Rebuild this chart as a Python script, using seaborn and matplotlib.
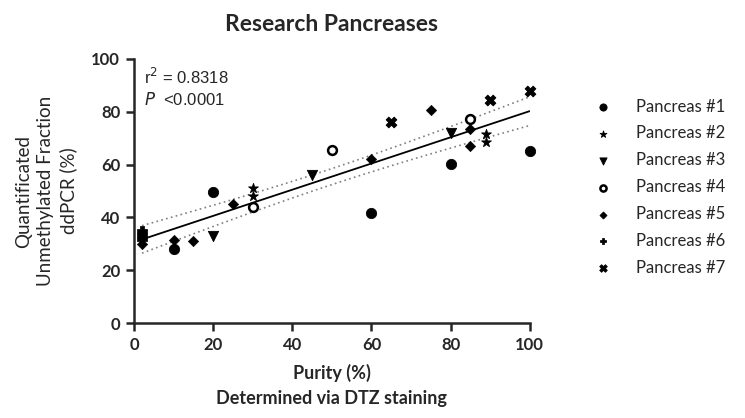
import numpy as np
import matplotlib
matplotlib.use("Agg")
import matplotlib.pyplot as plt
import pandas as pd
import seaborn as sns

# purity (%) vs quantified unmethylated fraction (%) for each pancreas
p1_x = [10, 20, 60, 80, 100]
p1_y = [28.2, 49.7, 41.6, 60.2, 65.2]
p2_x = [30, 30, 89, 89]
p2_y = [51.2, 48.3, 71.4, 68.4]
p3_x = [20, 45, 80]
p3_y = [33.0, 56.0, 72.0]
p4_x = [30, 50, 85]
p4_y = [43.9, 65.5, 77.2]
p5_x = [2, 10, 15, 25, 60, 75, 85, 85]
p5_y = [30.0, 31.5, 31.0, 45.1, 62.3, 80.5, 73.6, 67.0]
p6_x = [2, 2, 2]
p6_y = [35.0, 33.4, 31.7]
p7_x = [65, 90, 100]
p7_y = [76.2, 84.5, 88.0]

labels = ["Pancreas #1", "Pancreas #2", "Pancreas #3", "Pancreas #4",
          "Pancreas #5", "Pancreas #6", "Pancreas #7"]
xs = [p1_x, p2_x, p3_x, p4_x, p5_x, p6_x, p7_x]
ys = [p1_y, p2_y, p3_y, p4_y, p5_y, p6_y, p7_y]

sns.set_style("ticks")
plt.rcParams['font.family'] = ['Lato', 'DejaVu Sans']

fig = plt.figure(figsize=(7.45, 4.18), dpi=100)
ax = fig.add_axes([0.18, 0.227, 0.531, 0.632])

# marker style for each pancreas
styles = [
    dict(marker="o", s=55, color="black", edgecolor="black"),
    dict(marker="*", s=55, color="black", edgecolor="black"),
    dict(marker="v", s=55, color="black", edgecolor="black"),
    dict(marker="o", s=40, color="white", edgecolor="black", linewidth=1.8),
    dict(marker="D", s=28, color="black", edgecolor="black"),
    dict(marker="P", s=45, color="black", edgecolor="black"),
    dict(marker="X", s=60, color="black", edgecolor="black"),
]

for x, y, lab, st in zip(xs, ys, labels, styles):
    df = pd.DataFrame({"x": x, "y": y})
    sns.scatterplot(data=df, x="x", y="y", ax=ax, label=lab, zorder=3,
                    clip_on=False, **st)

# linear regression with 95% confidence band
all_x = np.concatenate([np.array(v, float) for v in xs])
all_y = np.concatenate([np.array(v, float) for v in ys])
n = len(all_x)
slope, icpt = np.polyfit(all_x, all_y, 1)
gx = np.linspace(all_x.min(), all_x.max(), 100)
gy = slope * gx + icpt
resid = all_y - (slope * all_x + icpt)
s_err = np.sqrt(np.sum(resid ** 2) / (n - 2))
sxx = np.sum((all_x - all_x.mean()) ** 2)
se = s_err * np.sqrt(1 / n + (gx - all_x.mean()) ** 2 / sxx)
t = 2.05
ax.plot(gx, gy, color="black", lw=1.3, zorder=2)
ax.plot(gx, gy + t * se, color="grey", lw=1.2, ls=(0, (1, 2)), zorder=2)
ax.plot(gx, gy - t * se, color="grey", lw=1.2, ls=(0, (1, 2)), zorder=2)

ax.set_xlim(0, 100)
ax.set_ylim(0, 100)
ax.set_xticks([0, 20, 40, 60, 80, 100])
ax.set_yticks([0, 20, 40, 60, 80, 100])
for sp in ["top", "right"]:
    ax.spines[sp].set_visible(False)
for sp in ["left", "bottom"]:
    ax.spines[sp].set_linewidth(1.8)
ax.tick_params(axis="both", width=1.8, length=6, labelsize=12, pad=4)
for lbl in ax.get_xticklabels() + ax.get_yticklabels():
    lbl.set_fontweight("bold")

ax.set_xlabel("Purity (%)\nDetermined via DTZ staining", fontsize=13,
              fontweight="bold", labelpad=8, linespacing=1.55)
ax.set_ylabel("Quantificated\nUnmethylated Fraction\nddPCR (%)", fontsize=13.5,
              labelpad=10, linespacing=1.35)
ax.set_title("Research Pancreases", fontsize=16.5, fontweight="bold", pad=20)

ax.text(2.5, 97, "r$^2$ = 0.8318", fontsize=12, va="top",
        family=["Liberation Sans", "DejaVu Sans"])
ax.text(2.5, 88, "$P$  <0.0001", fontsize=12, va="top",
        family=["Liberation Sans", "DejaVu Sans"])

leg = ax.legend(loc="upper left", bbox_to_anchor=(0.778, 0.80),
                bbox_transform=fig.transFigure, frameon=False, fontsize=12,
                markerscale=0.7, labelspacing=0.65, handletextpad=1.5,
                handlelength=1.0)

fig.savefig("out.png", dpi=100)
